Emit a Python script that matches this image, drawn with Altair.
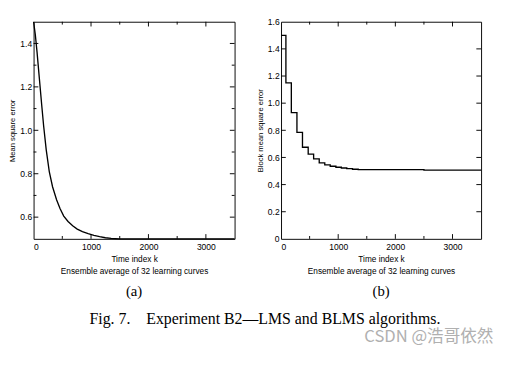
import altair as alt
import pandas as pd

# ---- data ----
lms_k = [0, 30, 60, 100, 140, 175, 220, 273, 330, 400, 460, 525, 600, 680, 760,
         850, 950, 1050, 1150, 1250, 1350, 1500, 2000, 2500, 3000, 3500]
lms_mse = [1.50, 1.44, 1.36, 1.24, 1.12, 1.02, 0.91, 0.81, 0.74, 0.68, 0.64, 0.605,
           0.58, 0.56, 0.545, 0.533, 0.524, 0.516, 0.51, 0.505, 0.502, 0.50, 0.50,
           0.50, 0.50, 0.50]

blms_k = [0, 85, 180, 278, 375, 475, 570, 668, 765, 860, 960, 1055, 1150, 1250,
          1350, 2500, 3500]
blms_mse = [1.50, 1.15, 0.93, 0.785, 0.675, 0.625, 0.59, 0.56, 0.545, 0.535, 0.528,
            0.522, 0.517, 0.513, 0.51, 0.507, 0.507]

x_labels = [0, 1000, 2000, 3000]
x_major = [1000, 2000, 3000]
x_minor = [500, 1500, 2500]
a_y_labels = [0.6, 0.8, 1.0, 1.2, 1.4]
a_y_minor = [0.7, 0.9, 1.1, 1.3]
b_y_labels = [0, 0.2, 0.4, 0.6, 0.8, 1.0, 1.2, 1.4, 1.6]
b_y_ticks = [0.2, 0.4, 0.6, 0.8, 1.0, 1.2, 1.4]

x_title = ["Time index k", "Ensemble average of 32 learning curves"]
a_y_title = "Mean square error"
b_y_title = "Block mean square error"
caption = "Fig.\u00a07.\u00a0\u00a0\u00a0\u00a0Experiment B2\u2014LMS and BLMS algorithms."
watermark = "CSDN @浩哥依然"

H = 229
W_A = 212
W_B = 211
SANS = "Liberation Sans"
SERIF = "Liberation Serif"


def panel(k, v, ydom, ylabels, ylabel_expr, ytitle, y_major, y_minor, W, letter, interp):
    xs = alt.Scale(domain=[0, 3500], nice=False, zero=False)
    ys = alt.Scale(domain=ydom, nice=False, zero=False)
    xax = alt.Axis(values=x_labels, format="d", ticks=False, domain=False, grid=False,
                   labelPadding=4, labelFontSize=9, minExtent=13, maxExtent=13,
                   title=x_title, titlePadding=3.5, titleFontSize=8.7,
                   titleFontWeight="normal", titleLineHeight=13)
    yax = alt.Axis(values=ylabels, labelExpr=ylabel_expr, ticks=False, domain=False,
                   grid=False, labelPadding=2, labelFontSize=9, minExtent=16, maxExtent=16,
                   title=ytitle, titlePadding=2, titleFontSize=8,
                   titleFontWeight="normal")
    df = pd.DataFrame({"k": k, "v": v})
    line = alt.Chart(df).mark_line(color="black", strokeWidth=1.4, interpolate=interp).encode(
        x=alt.X("k:Q", scale=xs, axis=xax),
        y=alt.Y("v:Q", scale=ys, axis=yax),
    )
    layers = [line]

    def xt(vals, length):
        d = pd.DataFrame({"t": vals})
        base = alt.Chart(d).mark_rule(color="black", strokeWidth=1)
        return [
            base.encode(x=alt.X("t:Q", scale=xs, axis=xax), y=alt.value(H), y2=alt.value(H - length)),
            base.encode(x=alt.X("t:Q", scale=xs, axis=xax), y=alt.value(0), y2=alt.value(length)),
        ]

    def yt(vals, length):
        d = pd.DataFrame({"t": vals})
        base = alt.Chart(d).mark_rule(color="black", strokeWidth=1)
        return [
            base.encode(y=alt.Y("t:Q", scale=ys, axis=yax), x=alt.value(0), x2=alt.value(length)),
            base.encode(y=alt.Y("t:Q", scale=ys, axis=yax), x=alt.value(W), x2=alt.value(W - length)),
        ]

    layers += xt(x_major, 5) + xt(x_minor, 3) + yt(y_major, 5)
    if y_minor:
        layers += yt(y_minor, 3)
    return alt.layer(*layers).properties(
        width=W, height=H,
        view=alt.ViewBackground(stroke="black", strokeWidth=1),
        title=alt.TitleParams(letter, orient="bottom", font=SERIF, fontSize=15.5,
                              fontWeight="normal", offset=10, anchor="middle", color="black"),
    )


pa = panel(lms_k, lms_mse, [0.5, 1.5], a_y_labels, "format(datum.value, '.1f')",
           a_y_title, a_y_labels, a_y_minor, W_A, "(a)", "linear")
pb = panel(blms_k, blms_mse, [0, 1.6], b_y_labels,
           "datum.value == 0 ? '0' : format(datum.value, '.1f')",
           b_y_title, b_y_ticks, None, W_B, "(b)", "step-after")

row = alt.hconcat(pa, pb, spacing=18)

cap = alt.Chart(alt.Data(values=[{"t": caption}])).mark_text(
    font=SERIF, fontSize=16.7, color="black", align="center", baseline="middle"
).encode(text="t:N", x=alt.value(244), y=alt.value(20))
wm = alt.Chart(alt.Data(values=[{"t": watermark}])).mark_text(
    font="Noto Sans CJK SC", fontSize=17.5, color="#b0b0b0", align="right", baseline="middle"
).encode(text="t:N", x=alt.value(485), y=alt.value(39))
bottom = alt.layer(cap, wm).properties(width=493, height=47)

chart = alt.vconcat(row, bottom, spacing=0).properties(
    padding={"left": 0, "top": 0, "right": 0, "bottom": 0},
    background="white",
).configure_view(stroke=None).configure_axis(
    labelFont=SANS, titleFont=SANS, labelColor="black", titleColor="black"
)

chart.save("out.html", embed_options={"renderer": "svg", "actions": False})
